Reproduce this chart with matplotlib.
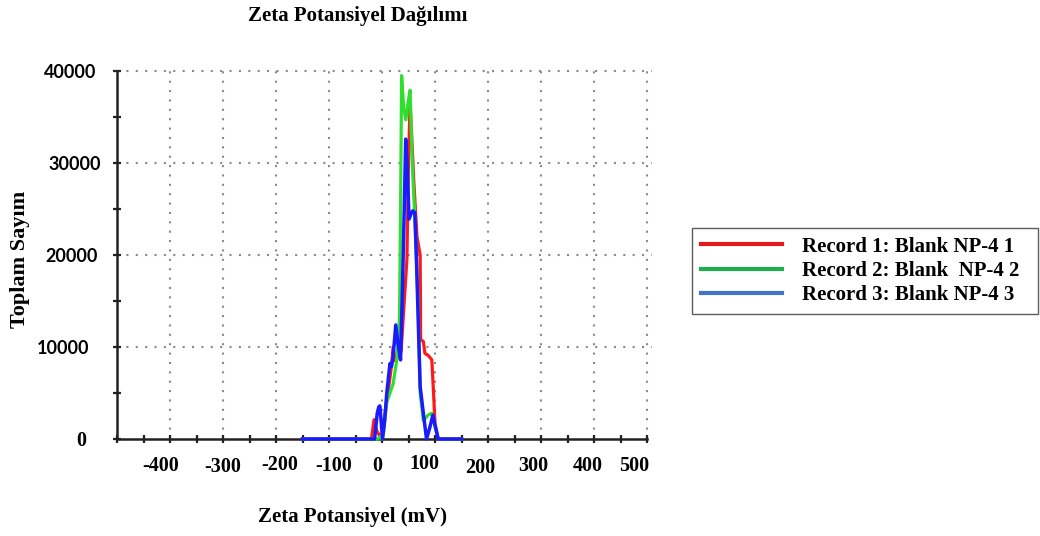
import numpy as np
import matplotlib.pyplot as plt
import matplotlib.transforms as mtransforms
from matplotlib.lines import Line2D
from matplotlib.ticker import MultipleLocator, FixedLocator

# Zeta potential distribution, three records (mV vs total counts)
x_red = [-150, -20, -15, -10, -1, 5, 9, 14, 18, 21, 25, 30, 36, 42, 47, 50, 53, 56, 60,
         66, 72, 73, 78, 81, 87, 94, 97, 100, 106, 150]
y_red = [0, 0, 2100, 900, 0, 2500, 4200, 6200, 8000, 10000, 8500, 9000, 9500, 15000, 19500,
         30000, 36500, 33000, 28000, 22000, 20000, 10800, 10600, 9300, 9100, 8600, 5300, 1700, 0, 0]

x_green = [-150, -8, -3, 0, 3, 9, 18, 21, 28, 33, 35, 37, 41, 45, 49, 53, 57, 62, 68,
           72, 78, 87, 94, 100, 106, 150]
y_green = [0, 0, 300, 0, 800, 4000, 5500, 6000, 8600, 13000, 25000, 39500, 36000, 34700,
           36500, 37900, 30000, 24000, 15000, 5000, 2000, 2600, 2800, 1400, 0, 0]

x_blue = [-150, -14, -9, -6, -4, 1, 5, 9, 15, 18, 21, 26, 30, 35, 38, 42, 44.7, 47, 51, 55,
          58, 62, 65, 72, 78, 84, 90, 96, 100, 106, 150]
y_blue = [0, 0, 2800, 3500, 3600, 0, 2000, 5000, 8200, 7900, 9000, 12400, 10400, 8600, 15000,
          25000, 32600, 30500, 23900, 24500, 24800, 24600, 19500, 5700, 2800, 0, 1200, 2600, 1500, 0, 0]

legend_labels = ["Record 1: Blank NP-4 1", "Record 2: Blank  NP-4 2", "Record 3: Blank NP-4 3"]
legend_colors = ["#e31a1c", "#1fae4f", "#4472c4"]

x_ticks = [-400, -300, -200, -100, 0, 100, 200, 300, 400, 500]
y_ticks = [0, 10000, 20000, 30000, 40000]

# hand-placed label nudges (pixels) from the original pasted-in labels
x_nudge = [(-9, 0), (0, -1.5), (4, 1), (5, 0), (-5, 0), (-11, 2), (-8, -2), (-8, 0), (-6, 0), (-13, 0)]
y_nudge = [(-10, 0), (-7, 0), (2, 0), (5, 0), (0, 0)]

plt.rcParams['font.family'] = ['Liberation Serif', 'DejaVu Serif']

fig = plt.figure(figsize=(10.4, 5.36), dpi=100)
ax = fig.add_axes([117 / 1040, 1 - 439 / 536, 530 / 1040, 368 / 536])

ax.plot(x_red, y_red, color="#ff1a1a", lw=2.3, zorder=4, clip_on=False)
ax.plot(x_green, y_green, color="#2ee02e", lw=2.3, zorder=5, clip_on=False)
ax.plot(x_blue, y_blue, color="#1a1aff", lw=2.5, zorder=6, clip_on=False)

ax.set_xlim(-500, 500)
ax.set_ylim(0, 40000)

for s in ["top", "right"]:
    ax.spines[s].set_visible(False)
for s in ["left", "bottom"]:
    ax.spines[s].set_linewidth(1.8)
    ax.spines[s].set_color("#222222")

# dotted grid
dots = (0, (1, 3.5))
for v in y_ticks[1:]:
    ax.plot([-500, 510], [v, v], color="#8a8a8a", lw=1.5, ls=dots, zorder=1, clip_on=False)
for v in x_ticks:
    ax.plot([v, v], [0, 40400], color="#8a8a8a", lw=1.5, ls=dots, zorder=1, clip_on=False)

ax.xaxis.set_major_locator(FixedLocator(x_ticks))
ax.xaxis.set_minor_locator(MultipleLocator(50))
ax.yaxis.set_major_locator(FixedLocator(y_ticks))
ax.yaxis.set_minor_locator(MultipleLocator(5000))
ax.tick_params(which="both", direction="inout", length=6, width=1.6, color="#222222")
ax.tick_params(axis="x", pad=9, labelsize=14.5)
ax.tick_params(axis="y", pad=12, labelsize=13)
ax.set_xticklabels([str(v) for v in x_ticks], fontweight="bold")
ax.set_yticklabels([str(v) for v in y_ticks])
for lbl in ax.get_yticklabels():
    if lbl.get_text() == "0":
        lbl.set_fontfamily(['Liberation Serif'])
        lbl.set_fontsize(14.5)
    else:
        lbl.set_fontfamily(['Lato', 'DejaVu Sans'])
    lbl.set_fontweight("bold")

for lbl, (dx, dy) in zip(ax.get_xticklabels(), x_nudge):
    lbl.set_transform(lbl.get_transform() + mtransforms.ScaledTranslation(dx / 100, dy / 100, fig.dpi_scale_trans))
for lbl, (dx, dy) in zip(ax.get_yticklabels(), y_nudge):
    lbl.set_transform(lbl.get_transform() + mtransforms.ScaledTranslation(dx / 100, dy / 100, fig.dpi_scale_trans))

fig.text(358 / 1040, 1 - 16 / 536, "Zeta Potansiyel Dağılımı", ha="center", va="center",
         fontsize=15, fontweight="bold")
fig.text(352 / 1040, 1 - 517 / 536, "Zeta Potansiyel (mV)", ha="center", va="center",
         fontsize=15, fontweight="bold")
fig.text(20 / 1040, 1 - 259 / 536, "Toplam Sayım", ha="center", va="center",
         rotation=90, fontsize=16, fontweight="bold")

handles = [Line2D([], [], color=c, lw=3) for c in legend_colors]
leg = fig.legend(handles, legend_labels, loc="upper left", mode="expand",
                 bbox_to_anchor=(692 / 1040, 1 - 313 / 536, 346 / 1040, 85 / 536),
                 borderaxespad=0, frameon=True, fancybox=False,
                 edgecolor="#333333", handlelength=3.9, handletextpad=0.95,
                 labelspacing=0.2, borderpad=0.42,
                 prop={'family': ['Liberation Serif'], 'weight': 'bold', 'size': 15})
leg.get_frame().set_linewidth(1.0)

fig.savefig("out.png", dpi=100)
